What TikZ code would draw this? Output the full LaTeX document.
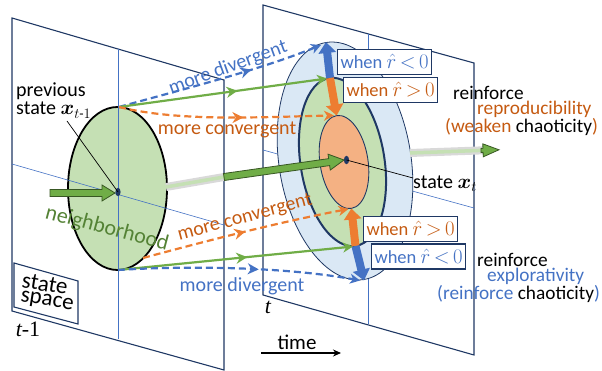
\documentclass[tikz,border=0pt]{standalone}
\usepackage{amsmath,bm}
\usepackage{fontspec}
\setmainfont{Carlito}
\newfontfamily\serf{Liberation Serif}
\usetikzlibrary{arrows.meta,calc,decorations.markings}
\definecolor{oblue}{HTML}{4472C4}
\definecolor{oorange}{HTML}{ED7D31}
\definecolor{otxt}{HTML}{C55A11}
\definecolor{ogreen}{HTML}{70AD47}
\definecolor{dgreen}{HTML}{548235}
\definecolor{lgreen}{HTML}{C5E0B4}
\definecolor{lblue}{HTML}{DAE8F5}
\definecolor{lorange}{HTML}{F4B183}
\definecolor{navy}{HTML}{1F3864}
\definecolor{bgreen}{HTML}{385723}
\newcommand{\blockarr}[6]{%
  \coordinate (baH) at ($(#2)!#5!(#1)$);
  \filldraw[#6] ($(#1)!#3!90:(#2)$) -- ($(baH)!#3!90:(#2)$) -- ($(baH)!#4!90:(#2)$) -- (#2)
    -- ($(baH)!#4!-90:(#2)$) -- ($(baH)!#3!-90:(#2)$) -- ($(#1)!#3!-90:(#2)$) -- cycle;}
\newcommand{\rmath}[1]{{\fontsize{22}{24}\selectfont$\hat{r}\,{#1}\,0$}}
\begin{document}
\begin{tikzpicture}[x=1pt,y=-1pt,
  every node/.style={font=\fontsize{20}{22}\selectfont, inner sep=0pt},
  side/.style={font=\fontsize{19.3}{22}\selectfont, anchor=west},
  panel/.style={draw=navy, line width=1.1pt},
  cline/.style={draw=oblue, line width=0.6pt},
  flow/.style={line width=2.2pt, -{Stealth[length=10pt,width=10pt,inset=3pt]}},
  dashflow/.style={flow, dash pattern=on 7pt off 4pt},
  midarr/.style={postaction={decorate, decoration={markings, mark=at position #1 with {\arrow[solid]{Stealth[length=11pt,width=11pt,inset=3.5pt]}}}}},
  whenbox/.style={draw=navy, line width=1.1pt, fill=white, inner xsep=3pt, minimum height=25pt, anchor=west, font=\fontsize{18.5}{20}\selectfont},
  bandout/.style={line width=8pt, draw=gray!30},
  bandin/.style={line width=3.5pt, draw=lgreen},
  garrow/.style={fill=ogreen, draw=bgreen, line width=0.8pt},
  dbar/.style={line width=8pt, -{Triangle[width=17pt,length=11pt]}},
  lbl/.style={draw=black, line width=0.7pt}
]
\useasboundingbox (0,0) rectangle (602,371);
% ---------- coordinates
\coordinate (LC) at (117.5,188.5);
\coordinate (Ldot) at (118,192);
\coordinate (LT) at (119,107);
\coordinate (LB) at (118,270);
\coordinate (LOB) at (143,258);
\coordinate (RC) at (345,161);
\coordinate (GC) at (342.5,162);
\coordinate (OC) at (344,162);
\coordinate (Rdot) at (346.5,160);
\coordinate (BT) at (326,42);
\coordinate (GT) at (330,78);
\coordinate (OT) at (336.6,115.6);
\coordinate (OB) at (351.4,208.4);
\coordinate (GB) at (355.5,246);
\coordinate (BB) at (364,280.5);
\coordinate (e1) at (321,45);
\coordinate (e2) at (327,78.5);
\coordinate (e3) at (334,115.5);
\coordinate (e4) at (348.5,209);
\coordinate (e5) at (353,246.5);
\coordinate (e6) at (360,280.5);
% ---------- panels
\draw[panel] (12,18) -- (224,80) -- (224,370) -- (12,311) -- cycle;
\draw[panel] (263,5) -- (474,63) -- (474,355) -- (263,295) -- cycle;
% state space box
\filldraw[panel, fill=white] (14,263) -- (78,281) -- (78,324) -- (14,307) -- cycle;
\node[rotate=-9] (ss1) at (45,284) {\fontsize{23}{24}\selectfont state};
\node[rotate=-9] (ss2) at (47,302) {\fontsize{23}{24}\selectfont space};
% left ellipse
\filldraw[fill=lgreen, draw=black, line width=1.8pt] (LC) ellipse [x radius=49.5, y radius=81.5];
\draw[cline] (118,49) -- (118,339);
\draw[cline] (12,164) -- (224,225);
\fill[navy] (Ldot) ellipse [x radius=2.6, y radius=4.2];
% incoming arrow
\coordinate (inA) at (50,193);
\coordinate (inB) at (115,193);
\blockarr{inA}{inB}{3.5pt}{8pt}{13pt}{garrow}
% left band
\coordinate (lbs) at (166,187);
\coordinate (lbe) at (224,177);
\draw[bandout] (lbs) -- (lbe);
\draw[bandin] (lbs) -- (lbe);
% right panel
\draw[cline] (368,34) -- (368,324);
\draw[cline] (263,150) -- (474,208);
\filldraw[fill=lblue, draw=navy, line width=0.8pt, rotate around={9:(RC)}] (RC) ellipse [x radius=66, y radius=120];
\filldraw[fill=lgreen, draw=navy, line width=2pt, rotate around={9:(GC)}] (GC) ellipse [x radius=42, y radius=85];
\filldraw[fill=lorange, draw=navy, line width=0.9pt, rotate around={9:(OC)}] (OC) ellipse [x radius=24, y radius=47];
\fill[navy] (Rdot) ellipse [x radius=2.6, y radius=4.2];
% main trajectory arrow
\coordinate (mA) at (224,177);
\coordinate (mB) at (344,160);
\blockarr{mA}{mB}{3.5pt}{8pt}{15pt}{garrow}
% flows
\draw[dashflow, oblue, midarr=0.65] (LT) .. controls (180,90) and (260,70) .. (e1);
\draw[flow, ogreen, midarr=0.57] (LT) -- (e2);
\draw[dashflow, oorange, midarr=0.58] (LT) .. controls (180,122) and (260,117) .. (e3);
\draw[dashflow, oorange, midarr=0.5] (LOB) .. controls (210,240) and (280,222) .. (e4);
\draw[flow, ogreen, midarr=0.55] (LB) -- (e5);
\draw[dashflow, oblue, midarr=0.58] (LB) .. controls (180,266) and (280,266) .. (e6);
% double arrows
\draw[dbar, oblue] (GT) -- (BT);
\draw[dbar, oorange] (GT) -- (OT);
\draw[dbar, oorange] (GB) -- (OB);
\draw[dbar, oblue] (GB) -- (BB);
% boxes
\node[whenbox, text=oblue] (w1) at (337,62) {when \rmath{<}};
\node[whenbox, text=otxt] (w2) at (343,90) {when \rmath{>}};
\node[whenbox, text=otxt] (w3) at (363,229) {when \rmath{>}};
\node[whenbox, text=oblue] (w4) at (371,256.5) {when \rmath{<}};
% right band
\coordinate (rbs) at (410,153);
\coordinate (rbe) at (484,150.3);
\draw[bandout] (rbs) -- (rbe);
\draw[bandin] (rbs) -- (rbe);
\coordinate (rhA) at (481,150.4);
\coordinate (rhB) at (499,149.8);
\blockarr{rhA}{rhB}{2pt}{6.5pt}{16pt}{garrow}
% texts
\node[rotate=20, text=oblue] (md1) at (228,68) {more divergent};
\node[text=otxt] (mc1) at (227,130) {more convergent};
\node[rotate=-15, text=dgreen] (nb) at (107,229) {\fontsize{22}{24}\selectfont neighborhood};
\node[rotate=15, text=otxt] (mc2) at (245,218) {more convergent};
\node[text=oblue] (md2) at (242,286) {more divergent};
\node[anchor=base west] (prev) at (16,97) {previous};
\node[anchor=base west] (pst) at (16,115) {state $\bm{x}_{t\text{-}1}$};
\coordinate (pl) at (67,121);
\draw[lbl] (pl) -- (Ldot);
\node[anchor=west] (cst) at (413,184) {state $\bm{x}_t$};
\coordinate (cl) at (413,178);
\draw[lbl] (Rdot) -- (cl);
\node[side] (r1) at (453,93) {reinforce};
\node[side, text=otxt] (r2) at (477,109) {reproducibility};
\node[side] (r3) at (445,127) {\textcolor{otxt}{(weaken} chaoticity\textcolor{otxt}{)}};
\node[side] (s1) at (477,260) {reinforce};
\node[side, text=oblue] (s2) at (487,276) {explorativity};
\node[side] (s3) at (437,294) {\textcolor{oblue}{(reinforce} chaoticity\textcolor{oblue}{)}};
\node (tm1) at (28,329) {\fontsize{22}{24}\selectfont\serf\itshape t\upshape -1};
\node (tt) at (268,307) {\fontsize{22}{24}\selectfont\serf\itshape t};
\node (time) at (297,342) {\fontsize{21}{22}\selectfont time};
\coordinate (ta) at (261,353);
\coordinate (tb) at (341,353);
\draw[line width=1.1pt, -{Stealth[length=8pt,width=7pt]}] (ta) -- (tb);
\end{tikzpicture}
\end{document}
